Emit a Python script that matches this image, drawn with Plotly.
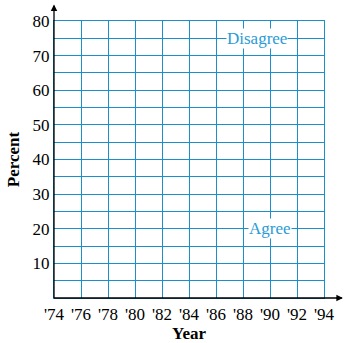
import plotly.graph_objects as go

years = list(range(1974, 1995, 2))
year_labels = ["'%02d" % (y % 100) for y in years]
y_ticks = list(range(0, 81, 5))
y_labels = [str(v) if (v % 10 == 0 and v > 0) else "" for v in y_ticks]
series_labels = ["Disagree", "Agree"]
label_x = [1989, 1990]
label_y = [75, 20]

GRID = "#1a8fca"
TXT = "#2a9bd6"
FONT = "Liberation Serif"

fig = go.Figure()
fig.add_trace(go.Scatter(x=[years[0]], y=[0], mode="markers",
                         marker=dict(opacity=0), hoverinfo="skip", showlegend=False))

for name, xv, yv in zip(series_labels, label_x, label_y):
    fig.add_annotation(x=xv, y=yv, xref="x", yref="y", text=name, showarrow=False,
                       font=dict(family=FONT, size=17, color=TXT),
                       bgcolor="white", borderpad=0)

# black axes with arrows
fig.add_shape(type="line", xref="paper", yref="paper", x0=0, y0=0, x1=1.066, y1=0,
              line=dict(color="black", width=1.3), layer="above")
fig.add_shape(type="line", xref="paper", yref="paper", x0=0, y0=0, x1=0, y1=1.055,
              line=dict(color="black", width=1.3), layer="above")
fig.add_annotation(xref="paper", yref="paper", x=1.07, y=0, ax=-8, ay=0,
                   showarrow=True, arrowhead=2, arrowsize=1, arrowwidth=1.3,
                   arrowcolor="black", text="")
fig.add_annotation(xref="paper", yref="paper", x=0, y=1.06, ax=0, ay=8,
                   showarrow=True, arrowhead=2, arrowsize=1, arrowwidth=1.3,
                   arrowcolor="black", text="")

fig.update_layout(
    width=346, height=343,
    margin=dict(l=54, r=22, t=21, b=45),
    paper_bgcolor="white", plot_bgcolor="white",
    showlegend=False,
    font=dict(family=FONT, size=17, color="black"),
    xaxis=dict(range=[years[0], years[-1]], tickvals=years, ticktext=year_labels,
               showgrid=True, gridcolor=GRID, gridwidth=1.3, zeroline=False,
               showline=True, linecolor=GRID, linewidth=1.3, mirror=True,
               ticks="", tickfont=dict(family=FONT, size=17), automargin=False,
               title=dict(text="<b>Year</b>", font=dict(family=FONT, size=17), standoff=4),
               fixedrange=True),
    yaxis=dict(range=[0, 80], tickvals=y_ticks, ticktext=y_labels,
               showgrid=True, gridcolor=GRID, gridwidth=1.3, zeroline=False,
               showline=True, linecolor=GRID, linewidth=1.3, mirror=True,
               ticks="", tickfont=dict(family=FONT, size=17), automargin=False,
               title=dict(text="<b>Percent</b>", font=dict(family=FONT, size=17), standoff=8),
               fixedrange=True),
)

fig.write_html("out.html", config={"displayModeBar": False})
